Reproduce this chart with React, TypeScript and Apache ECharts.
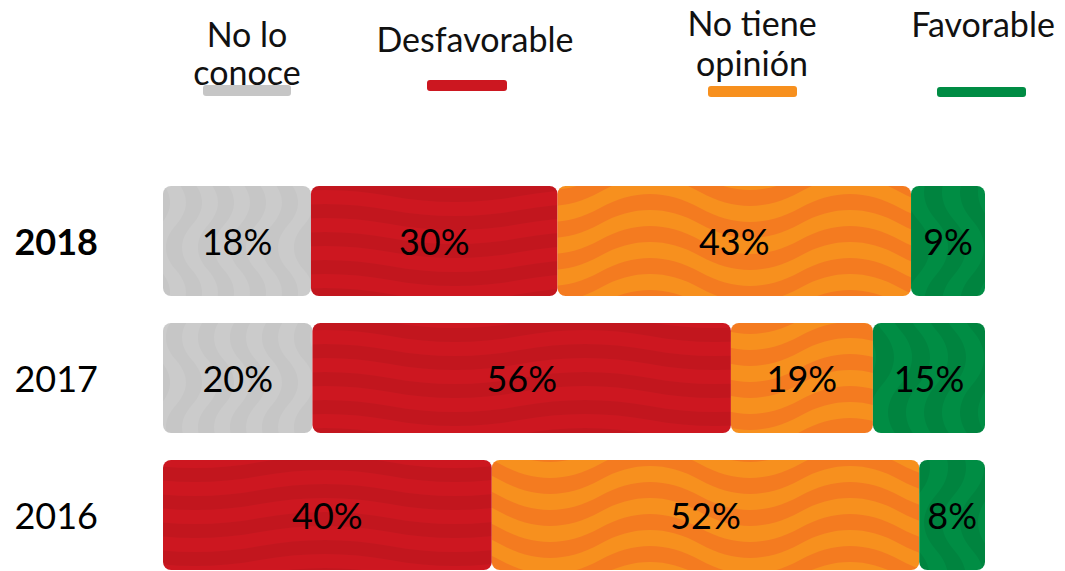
import React, { useEffect, useRef } from "react";
import * as echarts from "echarts";

const categories = ["2018", "2017", "2016"];
const highlightCategory = "2018";
const seriesNames = ["No lo conoce", "Desfavorable", "No tiene opinión", "Favorable"];
const noLoConoce: (number | null)[] = [18, 20, null];
const desfavorable: (number | null)[] = [30, 56, 40];
const noTieneOpinion: (number | null)[] = [43, 19, 52];
const favorable: (number | null)[] = [9, 15, 8];
const legendLabels = ["No lo\nconoce", "Desfavorable", "No tiene\nopinión", "Favorable"];

const palette = [
  { base: "#c6c6c6", dark: "#cbcbcb", solid: "#c6c6c6", W: 90, T: 16, A: 10, vertical: true },
  { base: "#cd1720", dark: "#c2161e", solid: "#cc1720", W: 260, T: 14, A: 6, vertical: false },
  { base: "#f7901e", dark: "#f47b20", solid: "#f7901e", W: 200, T: 16, A: 14, vertical: false },
  { base: "#008d44", dark: "#00843f", solid: "#008c44", W: 110, T: 18, A: 12, vertical: true },
];

const legendLayout = [
  { cx: 247, cy: 52, lh: 38, bx: 203, by: 85, bw: 88, bh: 11 },
  { cx: 475, cy: 38, lh: 38, bx: 427, by: 80, bw: 80, bh: 11 },
  { cx: 752, cy: 42, lh: 40, bx: 708, by: 86, bw: 89, bh: 11 },
  { cx: 983, cy: 23, lh: 38, bx: 937, by: 87, bw: 89, bh: 10 },
];

function wavePath(W: number, y0: number, A: number, T: number) {
  const o = (A * 4) / 3;
  return `M0 ${y0} C${W / 6} ${y0 - o} ${W / 3} ${y0 - o} ${W / 2} ${y0} S${(5 * W) / 6} ${y0 + o} ${W} ${y0} L${W} ${y0 + T} C${(5 * W) / 6} ${y0 + T + o} ${(2 * W) / 3} ${y0 + T + o} ${W / 2} ${y0 + T} S${W / 6} ${y0 + T - o} 0 ${y0 + T} Z`;
}

function makePattern(p: (typeof palette)[number]) {
  const H = p.T * 2;
  const d = wavePath(p.W, H / 2, p.A, p.T);
  let paths = "";
  for (let k = -2; k <= 2; k++) {
    paths += `<path d="${d}" fill="${p.dark}" transform="translate(0 ${k * H})"/>`;
  }
  let tw = p.W;
  let th = H;
  let inner = paths;
  if (p.vertical) {
    tw = H;
    th = p.W;
    inner = `<g transform="translate(${H} 0) rotate(90)">${paths}</g>`;
  }
  const svg = `<svg xmlns="http://www.w3.org/2000/svg" width="${tw}" height="${th}"><rect width="${tw}" height="${th}" fill="${p.base}"/>${inner}</svg>`;
  return {
    image: "data:image/svg+xml;charset=utf-8," + encodeURIComponent(svg),
    repeat: "repeat",
    imageWidth: tw,
    imageHeight: th,
  };
}

export default function App() {
  const ref = useRef<HTMLDivElement>(null);
  useEffect(() => {
    document.body.style.margin = "0";
    document.body.style.overflow = "hidden";
    document.documentElement.style.overflow = "hidden";
    if (!ref.current) return;
    const chart = echarts.init(ref.current, undefined, { renderer: "svg" });
    const rows = [noLoConoce, desfavorable, noTieneOpinion, favorable];
    const totals = categories.map((_, i) => rows.reduce((s, r) => s + (r[i] ?? 0), 0));
    const series = rows.map((r, si) => ({
      name: seriesNames[si],
      type: "bar",
      stack: "total",
      barWidth: 110,
      itemStyle: { color: makePattern(palette[si]) as any, borderRadius: 8 },
      label: {
        show: true,
        position: "inside",
        color: "#000",
        fontFamily: "Lato",
        fontSize: 36,
        formatter: (p: any) => (p.data && p.data.raw != null ? `${p.data.raw}%` : ""),
      },
      data: r.map((v, i) => (v == null ? null : { value: (v / totals[i]) * 100, raw: v })),
    }));
    const graphic: any[] = [];
    legendLabels.forEach((t, i) => {
      const l = legendLayout[i];
      graphic.push({
        type: "text",
        x: l.cx,
        y: l.cy,
        style: {
          text: t,
          fill: "#111",
          font: "34px Lato",
          lineHeight: l.lh,
          align: "center",
          verticalAlign: "middle",
        },
      });
      graphic.push({
        type: "rect",
        shape: { x: l.bx, y: l.by, width: l.bw, height: l.bh, r: 3 },
        style: { fill: palette[i].solid },
      });
    });
    chart.setOption({
      animation: false,
      grid: { left: 163, top: 172.5, width: 822, height: 411, containLabel: false },
      xAxis: { type: "value", min: 0, max: 100, show: false },
      yAxis: {
        type: "category",
        data: categories,
        inverse: true,
        axisLine: { show: false },
        axisTick: { show: false },
        splitLine: { show: false },
        axisLabel: {
          margin: 65,
          formatter: (v: string) => (v === highlightCategory ? `{b|${v}}` : `{n|${v}}`),
          rich: {
            b: { fontFamily: "Lato", fontWeight: "bold", fontSize: 36, color: "#000" },
            n: { fontFamily: "Lato", fontSize: 36, color: "#000" },
          },
        },
      },
      graphic,
      series,
    } as any);
    return () => chart.dispose();
  }, []);
  return <div ref={ref} style={{ width: 1065, height: 600 }} />;
}
